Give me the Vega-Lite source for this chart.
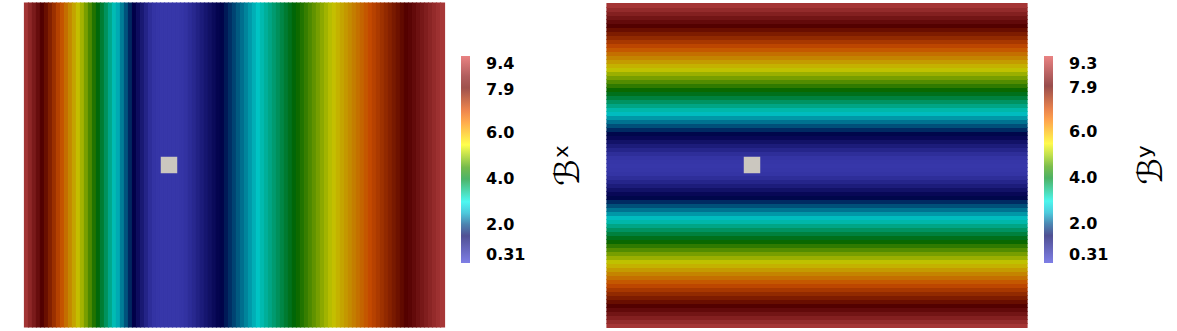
{
  "$schema": "https://vega.github.io/schema/vega-lite/v6.json",
  "padding": {"left": 23, "top": 2, "right": 0, "bottom": 0},
  "background": "white",
  "config": {
    "view": {"stroke": null},
    "title": {"font": "DejaVu Sans", "fontSize": 34, "fontWeight": "normal", "color": "black"}
  },
  "datasets": {
    "bx": [
      {"i":0,"v":9.26},{"i":1,"v":8.97},{"i":2,"v":8.69},{"i":3,"v":8.40},{"i":4,"v":8.12},{"i":5,"v":7.84},{"i":6,"v":7.55},{"i":7,"v":7.27},{"i":8,"v":6.98},{"i":9,"v":6.70},
      {"i":10,"v":6.42},{"i":11,"v":6.13},{"i":12,"v":5.85},{"i":13,"v":5.56},{"i":14,"v":5.28},{"i":15,"v":5.00},{"i":16,"v":4.71},{"i":17,"v":4.43},{"i":18,"v":4.14},{"i":19,"v":3.86},
      {"i":20,"v":3.58},{"i":21,"v":3.29},{"i":22,"v":3.01},{"i":23,"v":2.72},{"i":24,"v":2.44},{"i":25,"v":2.16},{"i":26,"v":1.87},{"i":27,"v":1.59},{"i":28,"v":1.30},{"i":29,"v":1.02},
      {"i":30,"v":0.76},{"i":31,"v":0.52},{"i":32,"v":0.38},{"i":33,"v":0.33},{"i":34,"v":0.31},{"i":35,"v":0.31},{"i":36,"v":0.31},{"i":37,"v":0.31},{"i":38,"v":0.32},{"i":39,"v":0.35},
      {"i":40,"v":0.42},{"i":41,"v":0.54},{"i":42,"v":0.66},{"i":43,"v":0.80},{"i":44,"v":0.94},{"i":45,"v":1.08},{"i":46,"v":1.22},{"i":47,"v":1.36},{"i":48,"v":1.50},{"i":49,"v":1.64},
      {"i":50,"v":1.78},{"i":51,"v":1.92},{"i":52,"v":2.06},{"i":53,"v":2.20},{"i":54,"v":2.34},{"i":55,"v":2.48},{"i":56,"v":2.62},{"i":57,"v":2.76},{"i":58,"v":2.90},{"i":59,"v":3.04},
      {"i":60,"v":3.18},{"i":61,"v":3.32},{"i":62,"v":3.46},{"i":63,"v":3.60},{"i":64,"v":3.74},{"i":65,"v":3.88},{"i":66,"v":4.02},{"i":67,"v":4.16},{"i":68,"v":4.30},{"i":69,"v":4.43},
      {"i":70,"v":4.57},{"i":71,"v":4.71},{"i":72,"v":4.85},{"i":73,"v":4.99},{"i":74,"v":5.13},{"i":75,"v":5.27},{"i":76,"v":5.41},{"i":77,"v":5.55},{"i":78,"v":5.69},{"i":79,"v":5.83},
      {"i":80,"v":5.97},{"i":81,"v":6.11},{"i":82,"v":6.25},{"i":83,"v":6.39},{"i":84,"v":6.53},{"i":85,"v":6.67},{"i":86,"v":6.81},{"i":87,"v":6.95},{"i":88,"v":7.09},{"i":89,"v":7.23},
      {"i":90,"v":7.37},{"i":91,"v":7.51},{"i":92,"v":7.65},{"i":93,"v":7.79},{"i":94,"v":7.93},{"i":95,"v":8.07},{"i":96,"v":8.21},{"i":97,"v":8.35},{"i":98,"v":8.49},{"i":99,"v":8.63},
      {"i":100,"v":8.77},{"i":101,"v":8.91},{"i":102,"v":9.05},{"i":103,"v":9.19},{"i":104,"v":9.33}
    ],
    "by": [
      {"j":0,"v":9.18},{"j":1,"v":8.95},{"j":2,"v":8.71},{"j":3,"v":8.47},{"j":4,"v":8.24},{"j":5,"v":8.00},{"j":6,"v":7.77},{"j":7,"v":7.53},{"j":8,"v":7.30},{"j":9,"v":7.06},
      {"j":10,"v":6.82},{"j":11,"v":6.59},{"j":12,"v":6.35},{"j":13,"v":6.12},{"j":14,"v":5.88},{"j":15,"v":5.64},{"j":16,"v":5.41},{"j":17,"v":5.17},{"j":18,"v":4.94},{"j":19,"v":4.70},
      {"j":20,"v":4.47},{"j":21,"v":4.23},{"j":22,"v":3.99},{"j":23,"v":3.76},{"j":24,"v":3.52},{"j":25,"v":3.29},{"j":26,"v":3.05},{"j":27,"v":2.82},{"j":28,"v":2.58},{"j":29,"v":2.34},
      {"j":30,"v":2.11},{"j":31,"v":1.87},{"j":32,"v":1.64},{"j":33,"v":1.40},{"j":34,"v":1.17},{"j":35,"v":0.93},{"j":36,"v":0.72},{"j":37,"v":0.52},{"j":38,"v":0.38},{"j":39,"v":0.33},
      {"j":40,"v":0.31},
      {"j":41,"v":0.33},{"j":42,"v":0.38},{"j":43,"v":0.52},{"j":44,"v":0.72},{"j":45,"v":0.93},{"j":46,"v":1.17},{"j":47,"v":1.40},{"j":48,"v":1.64},{"j":49,"v":1.87},{"j":50,"v":2.11},
      {"j":51,"v":2.34},{"j":52,"v":2.58},{"j":53,"v":2.82},{"j":54,"v":3.05},{"j":55,"v":3.29},{"j":56,"v":3.52},{"j":57,"v":3.76},{"j":58,"v":3.99},{"j":59,"v":4.23},{"j":60,"v":4.47},
      {"j":61,"v":4.70},{"j":62,"v":4.94},{"j":63,"v":5.17},{"j":64,"v":5.41},{"j":65,"v":5.64},{"j":66,"v":5.88},{"j":67,"v":6.12},{"j":68,"v":6.35},{"j":69,"v":6.59},{"j":70,"v":6.82},
      {"j":71,"v":7.06},{"j":72,"v":7.30},{"j":73,"v":7.53},{"j":74,"v":7.77},{"j":75,"v":8.00},{"j":76,"v":8.24},{"j":77,"v":8.47},{"j":78,"v":8.71},{"j":79,"v":8.95},{"j":80,"v":9.18}
    ],
    "sq": [{"px": 36.25, "py": 40.5}]
  },
  "hconcat": [
    {
      "width": 420, "height": 324,
      "title": {"text": "ℬˣ", "orient": "right", "angle": 270, "anchor": "middle", "frame": "group", "offset": -8},
      "layer": [
        {
          "data": {"name": "bx"},
          "mark": {"type": "rect", "opacity": 1, "strokeWidth": 1.2},
          "encoding": {
            "x": {"field": "i", "type": "quantitative", "bin": {"binned": true, "step": 1}, "scale": {"domain": [0, 105], "nice": false, "zero": false}, "axis": null},
            "y": {"datum": 0, "type": "quantitative", "scale": {"domain": [0, 81], "nice": false}, "axis": null},
            "y2": {"datum": 81},
            "fill": {"field": "v", "type": "quantitative", "legend": null,
              "scale": {"domain": [0.3101, 1.6101, 2.9011, 4.2101, 5.5001, 6.8001, 8.1001, 9.4001], "range": ["#3737a9", "#000047", "#00c4c4", "#006300", "#c4c400", "#c44b00", "#520000", "#ac3b3b"], "interpolate": "rgb"}},
            "stroke": {"field": "v", "type": "quantitative", "legend": null,
              "scale": {"domain": [0.3101, 1.6101, 2.9011, 4.2101, 5.5001, 6.8001, 8.1001, 9.4001], "range": ["#3737a9", "#000047", "#00c4c4", "#006300", "#c4c400", "#c44b00", "#520000", "#ac3b3b"], "interpolate": "rgb"}}
          }
        },
        {
          "data": {"name": "bx"},
          "mark": {"type": "point", "size": 1, "filled": false, "strokeWidth": 0},
          "encoding": {
            "x": {"field": "i", "type": "quantitative"},
            "y": {"datum": 40, "type": "quantitative"},
            "color": {
              "field": "v", "type": "quantitative",
              "scale": {"domain": [0.31, 1.61, 2.901, 4.21, 5.5, 6.8, 8.1, 9.4], "range": ["#4747db", "#00005c", "#00ffff", "#008000", "#ffff00", "#ff6100", "#6b0000", "#e04d4d"], "interpolate": "rgb"},
              "legend": {
                "title": null, "values": [0.31, 2, 4, 6, 7.9, 9.4],
                "labelExpr": "datum.value < 1 ? format(datum.value, '.2f') : format(datum.value, '.1f')",
                "orient": "none", "legendX": 437, "legendY": 53, "direction": "vertical",
                "gradientLength": 207, "gradientThickness": 9, "gradientStrokeWidth": 0,
                "labelFont": "DejaVu Sans", "labelFontWeight": "bold", "labelFontSize": 16, "labelColor": "black",
                "labelOffset": 16, "labelBaseline": "middle", "labelOverlap": false, "padding": 0
              }
            }
          }
        },
        {
          "data": {"name": "sq"},
          "mark": {"type": "square", "size": 272, "color": "#cbc7bf", "opacity": 1, "filled": true},
          "encoding": {
            "x": {"field": "px", "type": "quantitative"},
            "y": {"field": "py", "type": "quantitative"}
          }
        }
      ]
    },
    {
      "width": 420, "height": 324,
      "title": {"text": "ℬʸ", "orient": "right", "angle": 270, "anchor": "middle", "frame": "group", "offset": -8},
      "layer": [
        {
          "data": {"name": "by"},
          "mark": {"type": "rect", "opacity": 1, "strokeWidth": 1.2},
          "encoding": {
            "y": {"field": "j", "type": "quantitative", "bin": {"binned": true, "step": 1}, "scale": {"domain": [0, 81], "nice": false, "zero": false}, "axis": null},
            "x": {"datum": 0, "type": "quantitative", "scale": {"domain": [0, 105], "nice": false}, "axis": null},
            "x2": {"datum": 105},
            "fill": {"field": "v", "type": "quantitative", "legend": null,
              "scale": {"domain": [0.3101, 1.5961, 2.8721, 4.1671, 5.4431, 6.7291, 8.0141, 9.3001], "range": ["#3737a9", "#000047", "#00c4c4", "#006300", "#c4c400", "#c44b00", "#520000", "#ac3b3b"], "interpolate": "rgb"}},
            "stroke": {"field": "v", "type": "quantitative", "legend": null,
              "scale": {"domain": [0.3101, 1.5961, 2.8721, 4.1671, 5.4431, 6.7291, 8.0141, 9.3001], "range": ["#3737a9", "#000047", "#00c4c4", "#006300", "#c4c400", "#c44b00", "#520000", "#ac3b3b"], "interpolate": "rgb"}}
          }
        },
        {
          "data": {"name": "by"},
          "mark": {"type": "point", "size": 1, "filled": false, "strokeWidth": 0},
          "encoding": {
            "y": {"field": "j", "type": "quantitative"},
            "x": {"datum": 50, "type": "quantitative"},
            "color": {
              "field": "v", "type": "quantitative",
              "scale": {"domain": [0.31, 1.596, 2.872, 4.167, 5.443, 6.729, 8.014, 9.3], "range": ["#4747db", "#00005c", "#00ffff", "#008000", "#ffff00", "#ff6100", "#6b0000", "#e04d4d"], "interpolate": "rgb"},
              "legend": {
                "title": null, "values": [0.31, 2, 4, 6, 7.9, 9.3],
                "labelExpr": "datum.value < 1 ? format(datum.value, '.2f') : format(datum.value, '.1f')",
                "orient": "none", "legendX": 437, "legendY": 53, "direction": "vertical",
                "gradientLength": 207, "gradientThickness": 9, "gradientStrokeWidth": 0,
                "labelFont": "DejaVu Sans", "labelFontWeight": "bold", "labelFontSize": 16, "labelColor": "black",
                "labelOffset": 16, "labelBaseline": "middle", "labelOverlap": false, "padding": 0
              }
            }
          }
        },
        {
          "data": {"name": "sq"},
          "mark": {"type": "square", "size": 272, "color": "#cbc7bf", "opacity": 1, "filled": true},
          "encoding": {
            "x": {"field": "px", "type": "quantitative"},
            "y": {"field": "py", "type": "quantitative"}
          }
        }
      ]
    }
  ],
  "spacing": 20,
  "resolve": {"scale": {"color": "independent", "fill": "independent", "stroke": "independent", "x": "independent", "y": "independent"}, "legend": {"color": "independent"}}
}
